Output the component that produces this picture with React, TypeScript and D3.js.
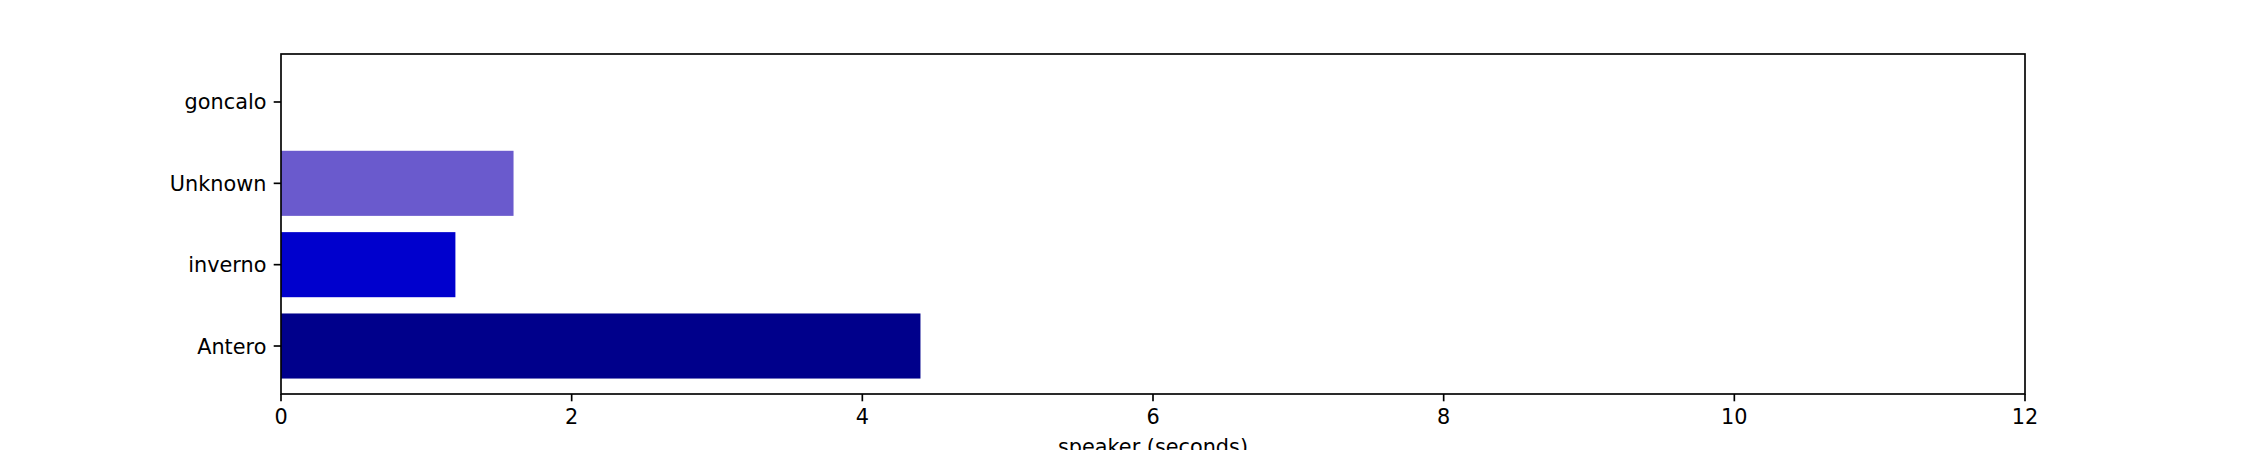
import { useEffect, useRef } from "react";
import * as d3 from "d3";

const speakers = ["Antero", "inverno", "Unknown", "goncalo"];
const seconds = [4.4, 1.2, 1.6, 0];
const barColors = ["#00008B", "#0000CD", "#6A5ACD", "#1E90FF"];
const xTicks = [0, 2, 4, 6, 8, 10, 12];

const WIDTH = 2250;
const HEIGHT = 450;
const FONT = "DejaVu Sans, sans-serif";

export default function App() {
  const ref = useRef<SVGSVGElement>(null);

  useEffect(() => {
    if (!ref.current) return;
    const margin = { top: 54, right: 225, bottom: 56, left: 281 };
    const svg = d3.select(ref.current);
    svg.selectAll("*").remove();

    const x = d3
      .scaleLinear()
      .domain([0, 12])
      .range([margin.left, WIDTH - margin.right]);

    // category index on a linear scale, like matplotlib barh
    const y = d3
      .scaleLinear()
      .domain([-0.59, 3.59])
      .range([HEIGHT - margin.bottom, margin.top]);

    const barH = y(0) - y(0.8);

    svg
      .append("g")
      .selectAll("rect")
      .data(speakers)
      .join("rect")
      .attr("x", x(0))
      .attr("y", (_, i) => y(i + 0.4))
      .attr("width", (_, i) => x(seconds[i]) - x(0))
      .attr("height", barH)
      .attr("fill", (_, i) => barColors[i]);

    const lw = 1.67;
    const tickLen = 7.3;

    // frame
    svg
      .append("rect")
      .attr("x", margin.left)
      .attr("y", margin.top)
      .attr("width", WIDTH - margin.right - margin.left)
      .attr("height", HEIGHT - margin.bottom - margin.top)
      .attr("fill", "none")
      .attr("stroke", "#000")
      .attr("stroke-width", lw);

    // x ticks
    const xg = svg.append("g");
    xg.selectAll("line")
      .data(xTicks)
      .join("line")
      .attr("x1", (d) => x(d))
      .attr("x2", (d) => x(d))
      .attr("y1", HEIGHT - margin.bottom)
      .attr("y2", HEIGHT - margin.bottom + tickLen)
      .attr("stroke", "#000")
      .attr("stroke-width", lw);
    xg.selectAll("text")
      .data(xTicks)
      .join("text")
      .attr("x", (d) => x(d))
      .attr("y", 423.5)
      .attr("text-anchor", "middle")
      .attr("font-family", FONT)
      .attr("font-size", 20.8)
      .attr("fill", "#000")
      .text((d) => `${d}`);

    // y ticks
    const yg = svg.append("g");
    yg.selectAll("line")
      .data(speakers)
      .join("line")
      .attr("x1", margin.left - tickLen)
      .attr("x2", margin.left)
      .attr("y1", (_, i) => y(i))
      .attr("y2", (_, i) => y(i))
      .attr("stroke", "#000")
      .attr("stroke-width", lw);
    yg.selectAll("text")
      .data(speakers)
      .join("text")
      .attr("x", margin.left - tickLen * 2)
      .attr("y", (_, i) => y(i) + 7.5)
      .attr("text-anchor", "end")
      .attr("font-family", FONT)
      .attr("font-size", 20.8)
      .attr("fill", "#000")
      .text((d) => d);

    svg
      .append("text")
      .attr("x", (x(0) + x(12)) / 2)
      .attr("y", 454)
      .attr("text-anchor", "middle")
      .attr("font-family", FONT)
      .attr("font-size", 20.8)
      .attr("fill", "#000")
      .text("speaker (seconds)");
  }, []);

  return (
    <svg
      ref={ref}
      width={WIDTH}
      height={HEIGHT}
      style={{ position: "absolute", left: 0, top: 0, background: "#fff" }}
    />
  );
}
